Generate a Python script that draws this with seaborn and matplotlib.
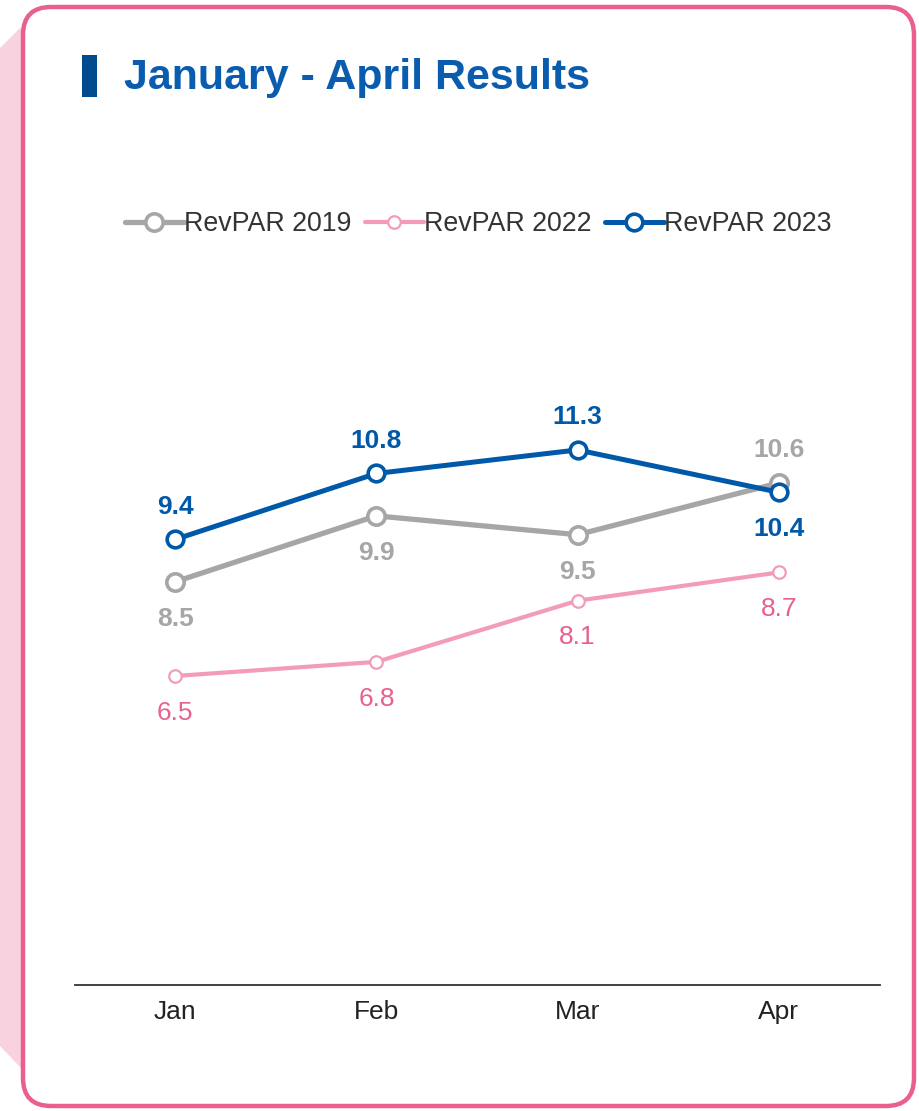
import matplotlib
matplotlib.use("Agg")
import matplotlib.pyplot as plt
from matplotlib.patches import FancyBboxPatch, Polygon, Rectangle
from matplotlib.lines import Line2D
import seaborn as sns
import pandas as pd

months = ["Jan", "Feb", "Mar", "Apr"]
revpar_2019 = [8.5, 9.9, 9.5, 10.6]
revpar_2022 = [6.5, 6.8, 8.1, 8.7]
revpar_2023 = [9.4, 10.8, 11.3, 10.4]

series = {
    "RevPAR 2019": revpar_2019,
    "RevPAR 2022": revpar_2022,
    "RevPAR 2023": revpar_2023,
}
# label placement: +1 above, -1 below
label_side = {
    "RevPAR 2019": [-1, -1, -1, 1],
    "RevPAR 2022": [-1, -1, -1, -1],
    "RevPAR 2023": [1, 1, 1, -1],
}
styles = {
    "RevPAR 2019": dict(color="#A6A6A6", lw=3.8, ms=12.5, mew=2.6, txt="#A6A6A6", weight="bold"),
    "RevPAR 2022": dict(color="#F29CBA", lw=3.0, ms=9, mew=1.6, txt="#E8608C", weight="normal"),
    "RevPAR 2023": dict(color="#0058A9", lw=3.6, ms=12, mew=2.6, txt="#0058A9", weight="bold"),
}

sns.set_theme(style="white")
plt.rcParams["font.family"] = ["Liberation Sans", "DejaVu Sans"]

W, H = 919, 1111
fig = plt.figure(figsize=(W / 100, H / 100), dpi=100)

# background card
bg = fig.add_axes([0, 0, 1, 1], zorder=0)
bg.set_xlim(0, W)
bg.set_ylim(H, 0)
bg.axis("off")
bg.add_patch(Polygon([(0, 48), (21, 27), (21, 1068), (0, 1046)], closed=True,
                     facecolor="#F8D3DF", edgecolor="none"))
bg.add_patch(FancyBboxPatch((23, 7), 891, 1099, boxstyle="round,pad=0,rounding_size=28",
                            facecolor="white", edgecolor="#E9608C", lw=3.2))
bg.add_patch(Rectangle((82, 55), 15, 42, facecolor="#004B8D", edgecolor="none"))
bg.text(124, 78, "January - April Results", fontsize=31, fontweight="bold",
        color="#0A5CAF", va="center", ha="left")

# chart
ax = fig.add_axes([74.5 / W, (H - 985) / H, 805 / W, (985 - 278) / H], zorder=1)
ax.patch.set_alpha(0)
x = list(range(len(months)))
handles = []
for name, vals in series.items():
    st = styles[name]
    df = pd.DataFrame({"x": x, "y": vals})
    sns.lineplot(data=df, x="x", y="y", ax=ax, color=st["color"], lw=st["lw"],
                 marker="o", markersize=st["ms"], markerfacecolor="white",
                 markeredgecolor=st["color"], markeredgewidth=st["mew"], zorder=3)
    for xi, v, side in zip(x, vals, label_side[name]):
        off = 23.5 if side > 0 else -26.5
        ax.annotate(f"{v:.1f}", (xi, v), xytext=(0, off), textcoords="offset points",
                    ha="center", va="center", fontsize=19, color=st["txt"],
                    fontweight=st["weight"])
    handles.append(Line2D([], [], color=st["color"], lw=st["lw"], marker="o",
                          markersize=st["ms"], markerfacecolor="white",
                          markeredgecolor=st["color"], markeredgewidth=st["mew"]))

ax.set_xlim(-0.5, len(months) - 0.5)
ax.set_ylim(-0.06, 14.95)
ax.set_xticks(x)
ax.set_xticklabels(months, fontsize=19, color="#222222")
ax.set_yticks([])
ax.set_xlabel("")
ax.set_ylabel("")
for s in ["top", "left", "right"]:
    ax.spines[s].set_visible(False)
ax.spines["bottom"].set_color("#333333")
ax.spines["bottom"].set_linewidth(1.3)
ax.tick_params(axis="x", length=0, pad=11)

fig.legend(handles, list(series.keys()), loc="center", bbox_to_anchor=(478 / W, 1 - 224 / H),
           ncol=3, frameon=False, fontsize=19.3, handlelength=2.2, handletextpad=0.0,
           columnspacing=0.5, labelcolor="#333333")

fig.savefig("out.png", dpi=100)
